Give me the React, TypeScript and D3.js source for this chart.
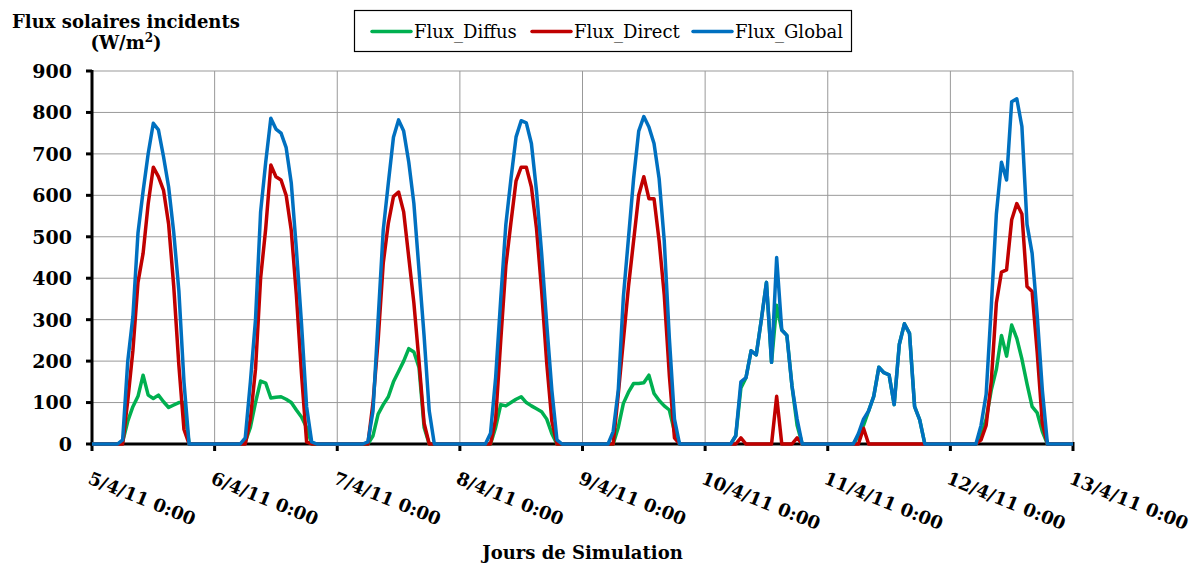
import React from "react";
import * as d3 from "d3";

const dayLabels = [
  "5/4/11 0:00", "6/4/11 0:00", "7/4/11 0:00", "8/4/11 0:00", "9/4/11 0:00",
  "10/4/11 0:00", "11/4/11 0:00", "12/4/11 0:00", "13/4/11 0:00",
];
const yTicks = [0, 100, 200, 300, 400, 500, 600, 700, 800, 900];

// hourly values, one row per day (0h..23h), plus final 13/4 0:00 point
const fluxDiffus = [
  0, 0, 0, 0, 0, 0, 5, 55, 90, 115, 166, 118, 110, 118, 102, 88, 94, 100, 100, 0, 0, 0, 0, 0,
  0, 0, 0, 0, 0, 0, 5, 40, 100, 152, 147, 111, 113, 114, 108, 100, 82, 65, 40, 0, 0, 0, 0, 0,
  0, 0, 0, 0, 0, 0, 0, 20, 72, 95, 114, 150, 175, 200, 230, 222, 185, 40, 0, 0, 0, 0, 0, 0,
  0, 0, 0, 0, 0, 0, 0, 40, 95, 92, 100, 108, 114, 100, 92, 85, 78, 60, 25, 0, 0, 0, 0, 0,
  0, 0, 0, 0, 0, 0, 0, 40, 98, 125, 146, 146, 148, 166, 122, 105, 92, 82, 30, 0, 0, 0, 0, 0,
  0, 0, 0, 0, 0, 0, 20, 135, 160, 225, 215, 300, 390, 197, 335, 275, 262, 140, 45, 0, 0, 0, 0, 0,
  0, 0, 0, 0, 0, 0, 20, 45, 80, 115, 185, 172, 167, 95, 240, 290, 267, 90, 58, 0, 0, 0, 0, 0,
  0, 0, 0, 0, 0, 0, 20, 60, 130, 180, 262, 212, 287, 255, 205, 145, 90, 75, 30, 0, 0, 0, 0, 0,
  0,
];
const fluxDirect = [
  0, 0, 0, 0, 0, 0, 0, 105, 225, 390, 460, 580, 668, 645, 612, 530, 380, 190, 35, 0, 0, 0, 0, 0,
  0, 0, 0, 0, 0, 0, 0, 60, 180, 400, 520, 673, 645, 637, 600, 515, 360, 170, 5, 0, 0, 0, 0, 0,
  0, 0, 0, 0, 0, 0, 0, 100, 250, 436, 533, 597, 608, 560, 450, 340, 200, 50, 0, 0, 0, 0, 0, 0,
  0, 0, 0, 0, 0, 0, 0, 60, 250, 430, 535, 635, 668, 668, 620, 520, 370, 195, 55, 0, 0, 0, 0, 0,
  0, 0, 0, 0, 0, 0, 0, 120, 250, 380, 490, 600, 645, 592, 592, 490, 360, 165, 15, 0, 0, 0, 0, 0,
  0, 0, 0, 0, 0, 0, 0, 15, 0, 0, 0, 0, 0, 0, 115, 0, 0, 0, 15, 0, 0, 0, 0, 0,
  0, 0, 0, 0, 0, 0, 0, 38, 0, 0, 0, 0, 0, 0, 0, 0, 0, 0, 0, 0, 0, 0, 0, 0,
  0, 0, 0, 0, 0, 0, 10, 45, 150, 340, 415, 420, 541, 580, 555, 380, 368, 220, 50, 0, 0, 0, 0, 0,
  0,
];
const fluxGlobal = [
  0, 0, 0, 0, 0, 0, 10, 200, 307, 509, 610, 701, 774, 758, 693, 620, 510, 370, 150, 0, 0, 0, 0, 0,
  0, 0, 0, 0, 0, 0, 15, 150, 300, 560, 680, 786, 760, 750, 715, 630, 470, 291, 90, 5, 0, 0, 0, 0,
  0, 0, 0, 0, 0, 0, 5, 80, 300, 516, 630, 740, 782, 755, 680, 580, 420, 260, 80, 0, 0, 0, 0, 0,
  0, 0, 0, 0, 0, 0, 26, 160, 350, 530, 640, 741, 780, 775, 725, 610, 460, 290, 130, 10, 0, 0, 0, 0,
  0, 0, 0, 0, 0, 0, 30, 130, 355, 497, 640, 755, 790, 765, 725, 640, 490, 255, 60, 0, 0, 0, 0, 0,
  0, 0, 0, 0, 0, 0, 20, 150, 160, 225, 215, 300, 390, 197, 450, 275, 262, 140, 60, 0, 0, 0, 0, 0,
  0, 0, 0, 0, 0, 0, 25, 60, 80, 115, 185, 172, 167, 95, 240, 290, 267, 90, 58, 0, 0, 0, 0, 0,
  0, 0, 0, 0, 0, 0, 45, 120, 330, 555, 680, 637, 826, 833, 766, 530, 460, 310, 130, 0, 0, 0, 0, 0,
  0,
];

const seriesNames = ["Flux_Diffus", "Flux_Direct", "Flux_Global"];
const seriesColors = ["#00B050", "#C00000", "#0070C0"];
const seriesData = [fluxDiffus, fluxDirect, fluxGlobal];

export default function App() {
  const W = 1197;
  const H = 567;
  const left = 92;
  const right = 1073;
  const top = 71;
  const bottom = 444;
  const hours = 24 * (dayLabels.length - 1);

  const x = d3.scaleLinear().domain([0, hours]).range([left, right]);
  const y = d3.scaleLinear().domain([0, 900]).range([bottom, top]);
  const line = d3
    .line<number>()
    .x((_, i) => x(i))
    .y((d) => y(d));

  const serif = "'DejaVu Serif', serif";
  const legendX = [372, 532, 693];

  return (
    <svg
      width={W}
      height={H}
      style={{ position: "absolute", left: 0, top: 0, background: "#fff" }}
      fontFamily={serif}
    >
      {/* gridlines */}
      {yTicks.map((t) => (
        <line key={"gy" + t} x1={left} x2={right} y1={y(t)} y2={y(t)} stroke="#999" strokeWidth={1} />
      ))}
      {dayLabels.map((_, i) => (
        <line key={"gx" + i} x1={x(i * 24)} x2={x(i * 24)} y1={top} y2={bottom} stroke="#999" strokeWidth={1} />
      ))}

      {/* axes */}
      <line x1={left} x2={left} y1={top - 1} y2={bottom + 2} stroke="#000" strokeWidth={3} />
      <line x1={left} x2={right} y1={bottom} y2={bottom} stroke="#000" strokeWidth={3} />
      {yTicks.map((t) => (
        <line key={"ty" + t} x1={left - 6} x2={left} y1={y(t)} y2={y(t)} stroke="#000" strokeWidth={3} />
      ))}
      {dayLabels.map((_, i) => (
        <line key={"tx" + i} x1={x(i * 24)} x2={x(i * 24)} y1={bottom - 2} y2={bottom + 7} stroke="#000" strokeWidth={3} />
      ))}

      {/* y tick labels */}
      {yTicks.map((t) => (
        <text key={"ly" + t} x={72} y={y(t)} dy="0.36em" textAnchor="end" fontSize={19} fontWeight="bold">
          {t}
        </text>
      ))}

      {/* x tick labels */}
      {dayLabels.map((d, i) => (
        <text
          key={"lx" + i}
          transform={`translate(${x(i * 24) - 5},${483}) rotate(22)`}
          fontSize={18}
          fontWeight="bold"
        >
          {d}
        </text>
      ))}

      {/* series */}
      {seriesData.map((s, k) => (
        <path
          key={"s" + k}
          d={line(s) || ""}
          fill="none"
          stroke={seriesColors[k]}
          strokeWidth={3.5}
          strokeLinejoin="round"
        />
      ))}

      {/* y title */}
      <text x={126} y={28} textAnchor="middle" fontSize={18} fontWeight="bold">
        Flux solaires incidents
      </text>
      <text x={126} y={49} textAnchor="middle" fontSize={18} fontWeight="bold">
        (W/m<tspan dy={-7} fontSize={12}>2</tspan>
        <tspan dy={7}>)</tspan>
      </text>

      {/* x title */}
      <text x={(left + right) / 2} y={559} textAnchor="middle" fontSize={18} fontWeight="bold">
        Jours de Simulation
      </text>

      {/* legend */}
      <rect x={354.5} y={10.5} width={497} height={41} fill="#fff" stroke="#000" strokeWidth={1.2} />
      {seriesNames.map((n, k) => (
        <g key={"lg" + k}>
          <line
            x1={legendX[k]}
            x2={legendX[k] + 39}
            y1={31.5}
            y2={31.5}
            stroke={seriesColors[k]}
            strokeWidth={3.5}
            strokeLinecap="round"
          />
          <text x={legendX[k] + 42} y={31.5} dy="0.35em" fontSize={18}>
            {n}
          </text>
        </g>
      ))}
    </svg>
  );
}
